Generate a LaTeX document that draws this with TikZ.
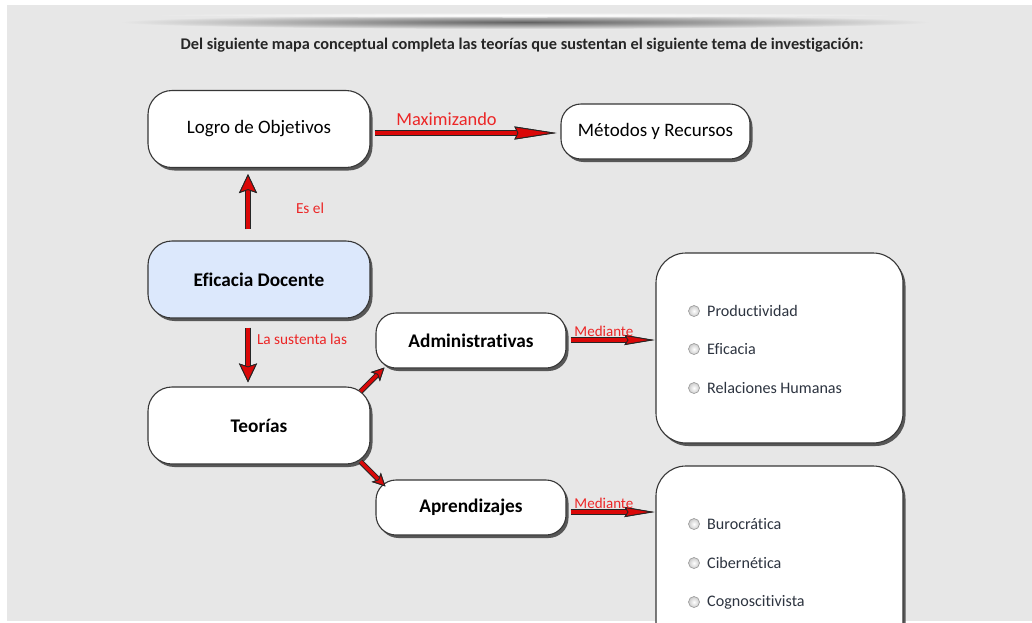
\documentclass[tikz,border=0pt]{standalone}
\usepackage{fontspec}
\setmainfont[Ligatures=CommonOff]{Carlito}
\usetikzlibrary{arrows.meta,shadows}
\definecolor{pagebg}{RGB}{231,231,231}
\definecolor{boxline}{RGB}{55,55,55}
\definecolor{lblred}{RGB}{236,38,38}
\definecolor{arrred}{RGB}{218,8,8}
\definecolor{docblue}{RGB}{220,232,252}
\definecolor{itemtext}{RGB}{45,52,64}
\begin{document}
\begin{tikzpicture}[x=1pt,y=-1pt,
  concept/.style={draw=boxline, line width=1.1pt, fill=white, rounded corners=24pt,
    minimum width=222pt, minimum height=77pt, inner sep=0pt, align=center,
    font=\fontsize{19}{22}\selectfont,
    drop shadow={shadow xshift=2.5pt, shadow yshift=-3pt, opacity=0.8, fill=black!80}},
  heavy/.style={font=\fontsize{19.3}{22}\selectfont\bfseries},
  small/.style={concept, rounded corners=20pt, minimum width=190pt, minimum height=55pt},
  listbox/.style={concept, rounded corners=30pt, minimum width=247pt, minimum height=190pt},
  lbl/.style={text=lblred, inner sep=1pt, font=\fontsize{15.3}{17}\selectfont},
  radio/.style={circle, draw=gray!75, line width=0.7pt, inner color=white, outer color=gray!40,
    minimum size=11pt, inner sep=0pt},
  item/.style={anchor=west, inner sep=2pt, text=itemtext, font=\fontsize{16.1}{18}\selectfont},
  redarrow/.style n args={3}{draw=arrred, line width=#3,
    -{Stealth[length=#1, width=#2, inset=3pt, line width=0.9pt, color=black!85, fill=arrred]},
    preaction={draw=black!85, line width=#3+1.8pt,
      -{Stealth[length=#1, width=#2, inset=3pt, line width=0.9pt, color=black!85, fill=black!85]}}}
]
\useasboundingbox (0,0) rectangle (1032,622);
\clip (0,0) rectangle (1032,622);
% page panel
\fill[white] (0,0) rectangle (1032,622);
\fill[pagebg] (7,5) rectangle (1032,621);
% heading rule
\shade[inner color=black!62, outer color=pagebg] (525,22) ellipse [x radius=405pt, y radius=7pt];
\shade[inner color=white, outer color=pagebg] (525,15) ellipse [x radius=380pt, y radius=2.5pt];
\node[font=\fontsize{16.3}{19}\selectfont\bfseries, text=black!85] (title) at (522,45)
  {Del siguiente mapa conceptual completa las teorías que sustentan el siguiente tema de investigación:};

% concept boxes
\node[concept] (logro) at (259,129) {Logro de Objetivos};
\node[small, minimum width=189pt] (metodos) at (655.5,131.5) {Métodos y Recursos};
\node[concept, fill=docblue, heavy] (eficacia) at (259,279.5) {Eficacia Docente};
\node[concept, heavy] (teorias) at (259,425.5) {Teorías};
\node[small, heavy] (admin) at (471,340.5) {Administrativas};
\node[small, heavy] (aprend) at (471,507.5) {Aprendizajes};
\node[listbox] (lista1) at (779.5,348) {};
\node[listbox] (lista2) at (779.5,561) {};

% options
\node[radio] (r1) at (694,311) {};
\node[item] (t1) at (705,311) {Productividad};
\node[radio] (r2) at (694,349) {};
\node[item] (t2) at (705,349) {Eficacia};
\node[radio] (r3) at (694,388) {};
\node[item] (t3) at (705,388) {Relaciones Humanas};
\node[radio] (r4) at (694,524) {};
\node[item] (t4) at (705,524) {Burocrática};
\node[radio] (r5) at (694,563) {};
\node[item] (t5) at (705,563) {Cibernética};
\node[radio] (r6) at (694,602) {};
\node[item] (t6) at (705,602) {Cognoscitivista};

% connectors
\draw[redarrow={19pt}{18pt}{4pt}, shorten <=11pt, shorten >=6pt]
  ([xshift=-11pt]eficacia.north) -- ([xshift=-11pt]logro.south)
  node[lbl, pos=0.45, anchor=west, xshift=45pt] (esel) {Es el};
\draw[redarrow={42pt}{13pt}{4pt}, shorten <=4pt, shorten >=4pt]
  (logro.east |- 0,133) -- (metodos.west |- 0,133)
  node[lbl, pos=0.4, above=4pt, font=\fontsize{18.4}{20}\selectfont] (maxi) {Maximizando};
\draw[redarrow={19pt}{18pt}{4pt}, shorten <=9pt, shorten >=4pt]
  ([xshift=-11pt]eficacia.south) -- ([xshift=-11pt]teorias.north)
  node[lbl, pos=0.3, anchor=west, xshift=6pt] (sust) {La sustenta las};
\draw[redarrow={13pt}{13pt}{3.5pt}]
  ([xshift=-10pt, yshift=-5pt]teorias.north east) -- ([xshift=9pt, yshift=1pt]admin.south west);
\draw[redarrow={13pt}{13pt}{3.5pt}]
  ([xshift=-10pt, yshift=3pt]teorias.south east) -- ([xshift=10pt, yshift=-7pt]aprend.north west);
\draw[redarrow={30pt}{10pt}{3.5pt}, shorten <=4pt, shorten >=1pt]
  (admin.east |- 0,340) -- (lista1.west |- 0,340)
  node[lbl, pos=0.42, above=1pt, font=\fontsize{15}{17}\selectfont] (med1) {Mediante};
\draw[redarrow={30pt}{10pt}{3.5pt}, shorten <=4pt, shorten >=1pt]
  (aprend.east |- 0,512) -- (lista2.west |- 0,512)
  node[lbl, pos=0.42, above=1pt, font=\fontsize{15}{17}\selectfont] (med2) {Mediante};
\end{tikzpicture}
\end{document}
